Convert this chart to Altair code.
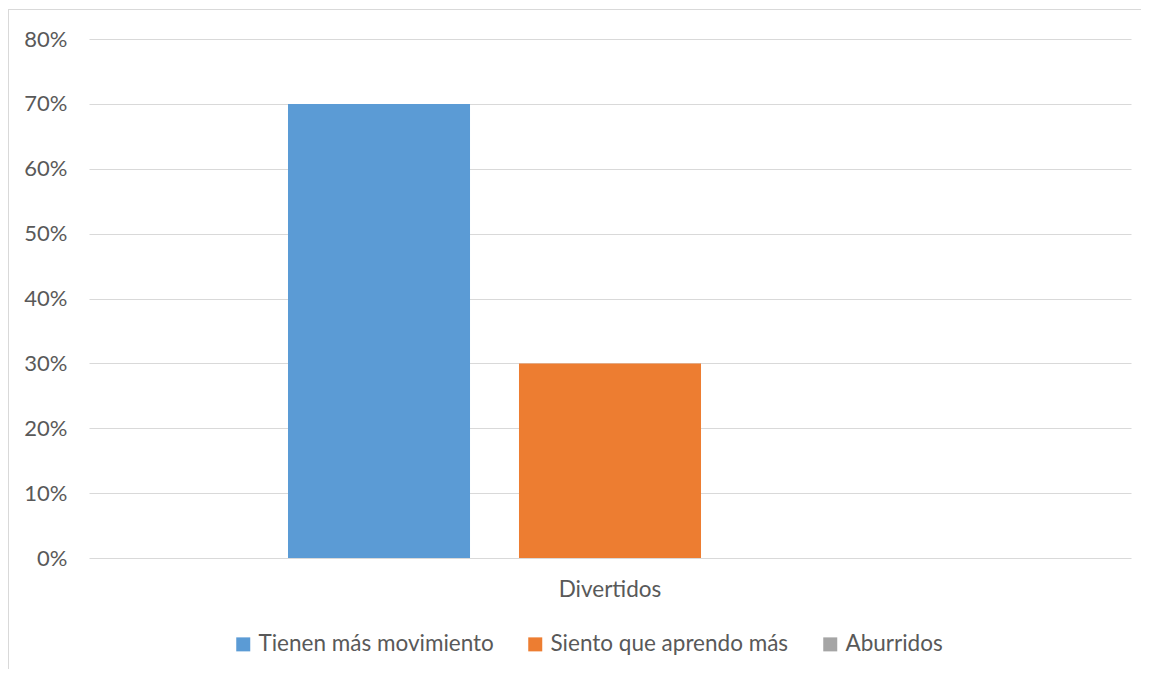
import altair as alt
import pandas as pd

categories = ["Divertidos"]
series = ["Tienen más movimiento", "Siento que aprendo más", "Aburridos"]
values = [0.70, 0.30, 0.0]
colors = ["#5B9BD5", "#ED7D31", "#A5A5A5"]
y_ticks = [0, 0.1, 0.2, 0.3, 0.4, 0.5, 0.6, 0.7, 0.8]

df = pd.DataFrame({
    "categoria": [categories[0]] * len(series),
    "serie": series,
    "valor": values,
})

FONT = "Lato"
TXT = "#595959"
GRID = "#D9D9D9"
FS = 22.5

bars = alt.Chart(df).mark_bar().encode(
    x=alt.X("categoria:N", title=None,
            scale=alt.Scale(paddingInner=0, paddingOuter=0.309),
            axis=alt.Axis(labelAngle=0, domain=False, ticks=False, grid=False,
                          labelPadding=20, labelFontSize=FS, labelColor=TXT,
                          labelFont=FONT)),
    xOffset=alt.XOffset("serie:N", sort=series,
                        scale=alt.Scale(paddingInner=0.212, paddingOuter=0)),
    y=alt.Y("valor:Q", title=None,
            scale=alt.Scale(domain=[0, 0.8], nice=False),
            axis=alt.Axis(values=y_ticks, format=".0%", domain=False, ticks=False,
                          grid=True, gridColor=GRID, gridWidth=1,
                          labelPadding=22, labelFontSize=22, labelColor=TXT,
                          labelFont=FONT)),
    color=alt.Color("serie:N", sort=series,
                    scale=alt.Scale(domain=series, range=colors),
                    legend=alt.Legend(title=None, orient="none", direction="horizontal",
                                      legendX=143, legendY=594,
                                      symbolType="square", symbolSize=196,
                                      symbolStrokeWidth=0, labelFontSize=FS,
                                      labelColor=TXT, labelFont=FONT, labelOffset=4,
                                      labelLimit=0, columnPadding=30, padding=0)),
)

frame = alt.Data(values=[{"a": 1}])
top_border = alt.Chart(frame).mark_rule(color=GRID, strokeWidth=1).encode(
    x=alt.value(-81), x2=alt.value(1052), y=alt.value(-29.5)
)
left_border = alt.Chart(frame).mark_rule(color=GRID, strokeWidth=1).encode(
    x=alt.value(-80.5), y=alt.value(-30), y2=alt.value(630)
)

chart = alt.layer(top_border, left_border, bars).properties(
    width=1042, height=519,
    background="white",
    padding={"left": 81, "top": 31, "right": 10, "bottom": 111},
    autosize=alt.AutoSizeParams(type="none"),
).configure_view(strokeWidth=0, stroke="transparent")

chart.save("out.html", embed_options={"renderer": "svg", "actions": False})
